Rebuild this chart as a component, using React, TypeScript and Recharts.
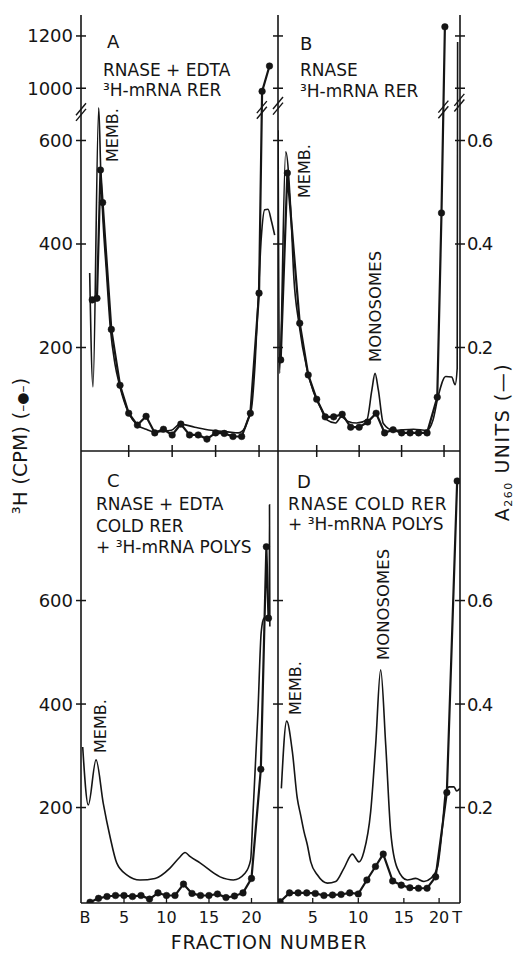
import React from 'react';
import { LineChart, Line, XAxis, YAxis, ReferenceLine } from 'recharts';

const INK = '#151515';
const FONT = '"DejaVu Sans", Verdana, sans-serif';

// ---------- tick labels ----------
const topCpmTickVals = [200, 400, 600, 1000, 1200];
const topCpmTickLabels = ['200', '400', '600', '1000', '1200'];
const topAbsTickVals = [0.2, 0.4, 0.6, 1.0, 1.2];
const topAbsTickLabels = ['0.2', '0.4', '0.6', '', ''];
const botCpmTickVals = [200, 400, 600];
const botCpmTickLabels = ['200', '400', '600'];
const botAbsTickVals = [0.2, 0.4, 0.6];
const botAbsTickLabels = ['0.2', '0.4', '0.6'];
const topFracTicks = [5, 10, 15, 20];
const cFracTickPos = [0.4, 5, 10, 15, 20];
const cFracTickLabels = ['B', '5', '10', '15', '20'];
const cFracTickMarks = [false, true, true, true, true];
const dFracTickPos = [4.7, 10, 15.3, 19.4, 21.5];
const dFracTickLabels = ['5', '10', '15', '20', 'T'];
const dFracTickMarks = [true, true, true, true, false];

// ---------- panel A : RNASE + EDTA, 3H-mRNA RER ----------
const aCpmFrac = [0.8, 1.35, 1.75, 2.0, 3, 4, 5, 6, 7, 8, 9, 10, 11, 12, 13, 14, 15, 16, 17, 18, 19, 20, 20.35, 21.2];
const aCpm = [292, 295, 543, 480, 235, 127, 73, 50, 67, 35, 42, 31, 52, 31, 31, 23, 35, 34, 28, 28, 73, 305, 988, 1085];
const aAbsFrac = [0.51, 0.89, 1.55, 1.78, 2.04, 2.42, 2.9, 3.4, 3.95, 5, 6, 7, 8, 9.9, 10.9, 12.6, 14.5, 16.4, 17.6, 18.35, 18.7, 19.1, 19.5, 19.88, 20.26, 20.65, 21.03, 21.4, 21.8];
const aAbs = [0.344, 0.124, 0.663, 0.543, 0.446, 0.35, 0.235, 0.17, 0.127, 0.073, 0.05, 0.042, 0.037, 0.04, 0.052, 0.046, 0.04, 0.037, 0.035, 0.044, 0.06, 0.079, 0.157, 0.286, 0.413, 0.466, 0.467, 0.446, 0.417];

// ---------- panel B : RNASE, 3H-mRNA RER ----------
const bCpmFrac = [0.76, 1.54, 3, 4, 5, 6, 7, 8, 9, 10, 11, 12, 13, 14, 15, 16, 17, 18, 19.2, 19.7, 20.1];
const bCpm = [176, 537, 247, 147, 100, 66, 66, 71, 46, 46, 56, 73, 35, 41, 35, 35, 35, 35, 104, 460, 1235];
const bAbsFrac = [0.45, 0.62, 1.35, 1.94, 2.3, 2.9, 3.9, 4.6, 5.4, 6.2, 7.2, 7.9, 8.7, 9.7, 10.9, 11.5, 11.87, 12.26, 12.85, 14, 16.4, 18, 18.7, 19.3, 20.2, 20.9, 21.3, 21.55, 21.6];
const bAbs = [0.62, 0.15, 0.578, 0.466, 0.337, 0.247, 0.155, 0.115, 0.086, 0.06, 0.054, 0.066, 0.057, 0.054, 0.06, 0.118, 0.15, 0.118, 0.053, 0.04, 0.042, 0.04, 0.06, 0.105, 0.144, 0.143, 0.128, 0.16, 1.177];

// ---------- panel C : RNASE + EDTA, COLD RER + 3H-mRNA POLYS ----------
const cCpmFrac = [1, 2, 3, 4, 5, 6, 7, 8, 9, 10, 11, 12, 13, 14, 15, 16, 17, 18, 19, 20, 21.1, 21.75, 22.0];
const cCpm = [17, 24.5, 28, 30, 30, 28, 30, 23, 35, 30, 30, 52, 34, 30, 30, 33, 26, 29, 35, 63, 274, 704, 566];
const cAbsFrac = [0.14, 0.8, 1.71, 2.56, 3.35, 4.14, 5.32, 6.88, 8.65, 10.41, 11.5, 12.18, 12.8, 13.94, 16.3, 17.86, 19.24, 19.9, 20.18, 20.76, 21.15, 21.47, 21.94, 22.1, 22.12, 22.16];
const cAbs = [0.317, 0.205, 0.292, 0.208, 0.144, 0.093, 0.07, 0.06, 0.063, 0.083, 0.103, 0.113, 0.105, 0.093, 0.066, 0.06, 0.073, 0.099, 0.19, 0.385, 0.54, 0.566, 0.569, 0.57, 0.785, 0.55];

// ---------- panel D : RNASE COLD RER + 3H-mRNA POLYS ----------
const dCpmFrac = [0.9, 2, 3, 4, 5, 6, 7, 8, 9, 10, 11, 12, 12.9, 14, 15, 16, 17, 18, 19, 20.3, 21.5];
const dCpm = [18, 35, 35, 35, 34, 30, 31, 32, 35, 33, 60, 86, 110, 58, 50, 45, 44, 44, 66, 229, 831];
const dAbsFrac = [1.05, 1.67, 2.33, 2.9, 3.3, 3.69, 4.07, 4.47, 5.23, 6.4, 7.37, 8.34, 9.3, 10.08, 10.66, 11.44, 12.02, 12.6, 13.19, 13.77, 14.53, 15.7, 16.67, 17.64, 18.42, 19.19, 19.77, 20.16, 20.6, 21.13, 21.44, 21.83];
const dAbs = [0.237, 0.367, 0.308, 0.218, 0.185, 0.153, 0.128, 0.095, 0.07, 0.054, 0.057, 0.083, 0.11, 0.095, 0.115, 0.192, 0.321, 0.466, 0.321, 0.153, 0.083, 0.06, 0.063, 0.057, 0.063, 0.083, 0.16, 0.23, 0.24, 0.24, 0.232, 0.237];

// ---------- broken-axis mapping for the upper panels ----------
const BRK_LO = 670;
const BRK_HI = 938.6;
const brk = (v: number) => (v <= BRK_LO ? v : v >= BRK_HI ? 701 + (v - 1000) * 0.505 : BRK_LO);
const brkAbs = (v: number) => brk(v * 1000) / 1000;
const ident = (v: number) => v;

const pts = (xs: number[], ys: number[], f: (v: number) => number) => xs.map((x, i) => ({ x, y: f(ys[i]) }));

const TOP_CPM_DOMAIN: [number, number] = [0, 842.5];
const TOP_ABS_DOMAIN: [number, number] = [0, 0.8425];
const BOT_CPM_DOMAIN: [number, number] = [15.5, 889];
const BOT_ABS_DOMAIN: [number, number] = [0.0155, 0.889];
const PX_PER_T = 0.5175;

const yTick = (vals: number[], labels: string[], side: 'left' | 'right', show: boolean) => (p: any) => {
  const v = p.payload ? p.payload.value : NaN;
  const i = vals.findIndex((t) => Math.abs(t - v) < 1e-9);
  const lab = show && i >= 0 ? labels[i] : '';
  const x = Number(p.x);
  const y = Number(p.y);
  return (
    <g>
      <line x1={x - 5} x2={x + 5} y1={y} y2={y} stroke={INK} strokeWidth={1.5} />
      {lab ? (
        <text
          x={side === 'left' ? x - 8 : x + 7}
          y={y}
          dy="0.36em"
          textAnchor={side === 'left' ? 'end' : 'start'}
          fontSize={18}
          fontFamily={FONT}
          fill={INK}
          letterSpacing={side === 'right' ? -1.2 : 0}
        >
          {lab}
        </text>
      ) : null}
    </g>
  );
};

const xTickCross = (p: any) => {
  const x = Number(p.x);
  const y = Number(p.y);
  return (
    <g>
      <line x1={x} x2={x} y1={y - 6} y2={y + 6} stroke={INK} strokeWidth={1.5} />
    </g>
  );
};

const xTickLabel = (vals: number[], labels: string[], marks: boolean[]) => (p: any) => {
  const v = p.payload ? p.payload.value : NaN;
  const i = vals.findIndex((t) => Math.abs(t - v) < 1e-9);
  const x = Number(p.x);
  const y = Number(p.y);
  return (
    <g>
      {i >= 0 && marks[i] ? <line x1={x} x2={x} y1={y - 5} y2={y} stroke={INK} strokeWidth={1.3} /> : null}
      <text x={x} y={y + 20} textAnchor="middle" fontSize={16} fontFamily={FONT} fill={INK}>
        {i >= 0 ? labels[i] : ''}
      </text>
    </g>
  );
};

function breakMarks(id: string, cx: number, cy: number, pxPerFrac: number) {
  const tpp = 1 / PX_PER_T;
  return [-2.8, 2.8].map((off, k) => (
    <ReferenceLine
      key={id + k}
      yAxisId="cpm"
      ifOverflow="visible"
      stroke={INK}
      strokeWidth={1.4}
      segment={[
        { x: cx - 5 / pxPerFrac, y: cy - (off + 6) * tpp },
        { x: cx + 5 / pxPerFrac, y: cy - (off - 6) * tpp },
      ]}
    />
  ));
}

const axisStyle = { stroke: INK, strokeWidth: 1.6 };

function series(cpm: { x: number; y: number }[], abs: { x: number; y: number }[]) {
  return [
    <Line
      key="abs"
      data={abs}
      dataKey="y"
      yAxisId="abs"
      type="monotone"
      stroke={INK}
      strokeWidth={1.6}
      dot={false}
      activeDot={false}
      isAnimationActive={false}
    />,
    <Line
      key="cpm"
      data={cpm}
      dataKey="y"
      yAxisId="cpm"
      type="linear"
      stroke={INK}
      strokeWidth={2.2}
      dot={{ r: 3.3, fill: INK, stroke: INK, strokeWidth: 0.5 }}
      activeDot={false}
      isAnimationActive={false}
    />,
  ];
}

const topCpmPos = topCpmTickVals.map(brk);
const topAbsPos = topAbsTickVals.map(brkAbs);

export default function App() {
  return (
    <div style={{ position: 'absolute', left: 0, top: 0, width: 518, height: 955, background: '#fff' }}>
      {/* Panel C */}
      <div style={{ position: 'absolute', left: 0, top: 441 }}>
        <LineChart width={278} height={492} margin={{ top: 10, right: 0, bottom: 0, left: 0 }}>
          <XAxis type="number" dataKey="x" domain={[-0.06, 23.12]} allowDataOverflow ticks={cFracTickPos} interval={0} height={30} tickLine={false} tickSize={0} tickMargin={0} axisLine={axisStyle} tick={xTickLabel(cFracTickPos, cFracTickLabels, cFracTickMarks)} />
          <YAxis yAxisId="cpm" type="number" domain={BOT_CPM_DOMAIN} allowDataOverflow ticks={botCpmTickVals} interval={0} width={81} tickLine={false} tickSize={0} tickMargin={0} axisLine={axisStyle} tick={yTick(botCpmTickVals, botCpmTickLabels, 'left', true)} />
          <YAxis yAxisId="abs" orientation="right" type="number" domain={BOT_ABS_DOMAIN} allowDataOverflow hide />
          {series(pts(cCpmFrac, cCpm, ident), pts(cAbsFrac, cAbs, ident))}
        </LineChart>
      </div>
      {/* Panel D */}
      <div style={{ position: 'absolute', left: 268, top: 441 }}>
        <LineChart width={250} height={492} margin={{ top: 10, right: 0, bottom: 0, left: 0 }}>
          <XAxis type="number" dataKey="x" domain={[0.66, 21.83]} allowDataOverflow ticks={dFracTickPos} interval={0} height={30} tickLine={false} tickSize={0} tickMargin={0} axisLine={axisStyle} tick={xTickLabel(dFracTickPos, dFracTickLabels, dFracTickMarks)} />
          <YAxis yAxisId="cpm" type="number" domain={BOT_CPM_DOMAIN} allowDataOverflow ticks={botCpmTickVals} interval={0} width={10} tickLine={false} tickSize={0} tickMargin={0} axisLine={axisStyle} tick={yTick(botCpmTickVals, botCpmTickLabels, 'left', false)} />
          <YAxis yAxisId="abs" orientation="right" type="number" domain={BOT_ABS_DOMAIN} allowDataOverflow ticks={botAbsTickVals} interval={0} width={58} tickLine={false} tickSize={0} tickMargin={0} axisLine={axisStyle} tick={yTick(botAbsTickVals, botAbsTickLabels, 'right', true)} />
          {series(pts(dCpmFrac, dCpm, ident), pts(dAbsFrac, dAbs, ident))}
        </LineChart>
      </div>
      {/* Panel A */}
      <div style={{ position: 'absolute', left: 0, top: 0 }}>
        <LineChart width={278} height={463} margin={{ top: 15, right: 0, bottom: 0, left: 0 }}>
          <XAxis type="number" dataKey="x" domain={[-0.49, 22.18]} allowDataOverflow ticks={topFracTicks} interval={0} height={12} tickLine={false} tickSize={0} tickMargin={0} axisLine={axisStyle} tick={xTickCross} />
          <YAxis yAxisId="cpm" type="number" domain={TOP_CPM_DOMAIN} allowDataOverflow ticks={topCpmPos} interval={0} width={81} tickLine={false} tickSize={0} tickMargin={0} axisLine={axisStyle} tick={yTick(topCpmPos, topCpmTickLabels, 'left', true)} />
          <YAxis yAxisId="abs" orientation="right" type="number" domain={TOP_ABS_DOMAIN} allowDataOverflow hide />
          {series(pts(aCpmFrac, aCpm, brk), pts(aAbsFrac, aAbs, brkAbs))}
          {breakMarks('aAxis', -0.49, 655, 8.69)}
          {breakMarks('aLine', 20.32, 659, 8.69)}
        </LineChart>
      </div>
      {/* Panel B */}
      <div style={{ position: 'absolute', left: 268, top: 0 }}>
        <LineChart width={250} height={463} margin={{ top: 15, right: 0, bottom: 0, left: 0 }}>
          <XAxis type="number" dataKey="x" domain={[0.44, 21.88]} allowDataOverflow ticks={topFracTicks} interval={0} height={12} tickLine={false} tickSize={0} tickMargin={0} axisLine={axisStyle} tick={xTickCross} />
          <YAxis yAxisId="cpm" type="number" domain={TOP_CPM_DOMAIN} allowDataOverflow ticks={topCpmPos} interval={0} width={10} tickLine={false} tickSize={0} tickMargin={0} axisLine={axisStyle} tick={yTick(topCpmPos, topCpmTickLabels, 'left', false)} />
          <YAxis yAxisId="abs" orientation="right" type="number" domain={TOP_ABS_DOMAIN} allowDataOverflow ticks={topAbsPos} interval={0} width={58} tickLine={false} tickSize={0} tickMargin={0} axisLine={axisStyle} tick={yTick(topAbsPos, topAbsTickLabels, 'right', true)} />
          {series(pts(bCpmFrac, bCpm, brk), pts(bAbsFrac, bAbs, brkAbs))}
          {breakMarks('bAxisL', 0.44, 667, 8.49)}
          {breakMarks('bLine', 19.92, 660, 8.49)}
          {breakMarks('bAxisR', 21.8, 673, 8.49)}
        </LineChart>
      </div>

      {/* Annotations */}
      <svg width={518} height={955} style={{ position: 'absolute', left: 0, top: 0, pointerEvents: 'none' }} fontFamily={FONT} fill={INK}>
        <text x={107} y={48} fontSize={18}>A</text>
        <text x={103} y={76} fontSize={17}>RNASE + EDTA</text>
        <text x={103} y={96} fontSize={17}>³H-mRNA RER</text>

        <text x={300} y={50} fontSize={18}>B</text>
        <text x={300} y={76} fontSize={17}>RNASE</text>
        <text x={300} y={97} fontSize={17}>³H-mRNA RER</text>

        <text x={107} y={487} fontSize={18}>C</text>
        <text x={96} y={510} fontSize={17}>RNASE + EDTA</text>
        <text x={96} y={532} fontSize={17}>COLD RER</text>
        <text x={96} y={553} fontSize={17}>+ ³H-mRNA POLYS</text>

        <text x={297} y={488} fontSize={18}>D</text>
        <text x={288} y={510} fontSize={17} letterSpacing={0.6}>RNASE COLD RER</text>
        <text x={288} y={530} fontSize={17}>+ ³H-mRNA POLYS</text>

        <text transform="translate(118,162) rotate(-90)" fontSize={16}>MEMB.</text>
        <text transform="translate(310,198) rotate(-90)" fontSize={16}>MEMB.</text>
        <text transform="translate(381,362) rotate(-90)" fontSize={16.5}>MONOSOMES</text>
        <text transform="translate(106,753) rotate(-90)" fontSize={16}>MEMB.</text>
        <text transform="translate(301,715) rotate(-90)" fontSize={16}>MEMB.</text>
        <text transform="translate(389,660) rotate(-90)" fontSize={16.5}>MONOSOMES</text>

        <text transform="translate(27,446) rotate(-90)" fontSize={20} textAnchor="middle">
          ³H (CPM) (<tspan fontSize={14}>–●–</tspan>)
        </text>
        <text transform="translate(509,442) rotate(-90)" fontSize={19} textAnchor="middle" letterSpacing={1.5}>
          A<tspan fontSize={11} dy={3}>260</tspan>
          <tspan dy={-3}> UNITS (—)</tspan>
        </text>

        <text x={269} y={949} fontSize={19} letterSpacing={0.8} textAnchor="middle">FRACTION NUMBER</text>
      </svg>
    </div>
  );
}
